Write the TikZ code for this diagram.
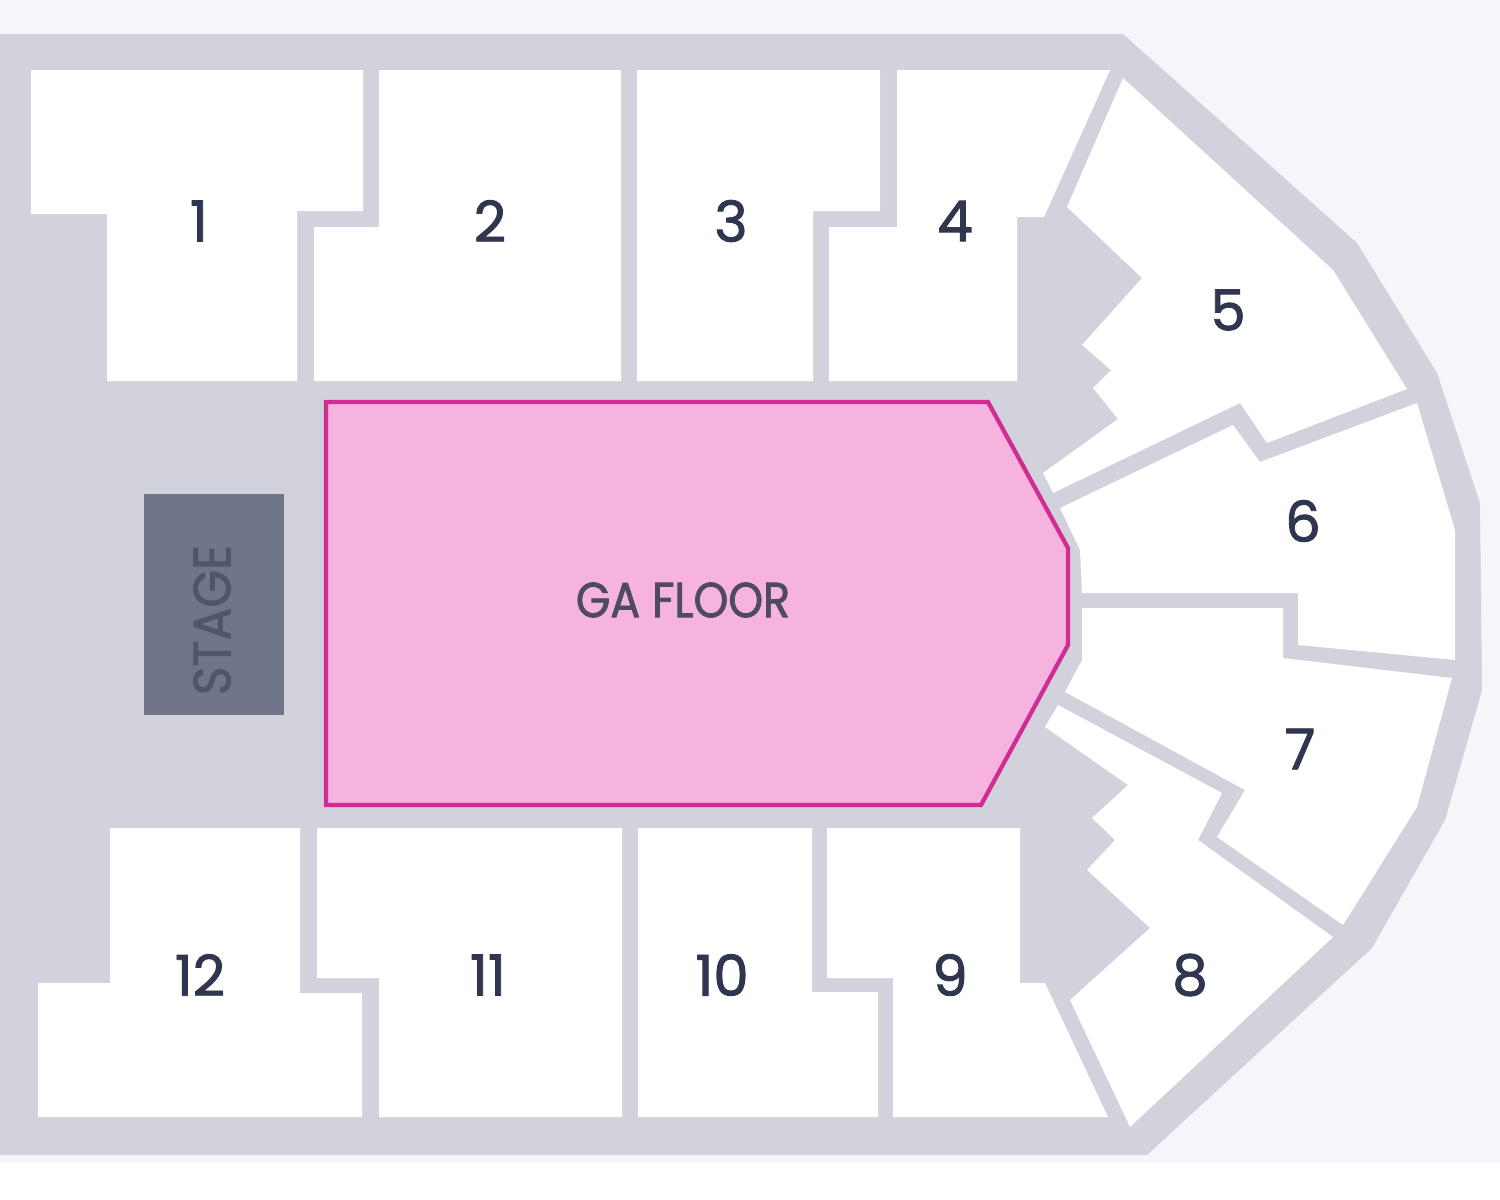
\documentclass[tikz,border=0pt]{standalone}
\usepackage{fontspec}
\setmainfont[AutoFakeBold=1.6]{Poppins}
\definecolor{venuebg}{HTML}{F5F5FA}
\definecolor{venuegrey}{HTML}{D1D2DB}
\definecolor{stagegrey}{HTML}{71758A}
\definecolor{stagetext}{HTML}{50556B}
\definecolor{floorpink}{HTML}{F7B3DF}
\definecolor{floorline}{HTML}{D02C93}
\definecolor{labelink}{HTML}{30364F}
\tikzset{
  section/.style={fill=white},
  seatlabel/.style={text=labelink,inner sep=0pt,font=\fontsize{16}{16}\selectfont\bfseries},
}
\begin{document}
\begin{tikzpicture}[x=0.01cm,y=-0.01cm]
      \useasboundingbox (0,0) rectangle (1500,1200);
      \fill[venuebg] (0,0) rectangle (1500,1163);
      \fill[venuegrey] (0,34) -- (1123,34) -- (1357,243) -- (1437,373) -- (1480,503)
        -- (1482,690) -- (1445,820) -- (1372,948) -- (1147,1155) -- (0,1155) -- cycle;
      % top row
      \fill[section] (31,70) -- (363,70) -- (363,211) -- (297,211) -- (297,381) -- (107,381) -- (107,214) -- (31,214) -- cycle;
      \fill[section] (379,70) -- (621,70) -- (621,381) -- (314,381) -- (314,227) -- (379,227) -- cycle;
      \fill[section] (637,70) -- (880,70) -- (880,211) -- (813,211) -- (813,381) -- (637,381) -- cycle;
      \fill[section] (897,70) -- (1110,70) -- (1044,217) -- (1017,217) -- (1017,381) -- (829,381) -- (829,227) -- (897,227) -- cycle;
      % right side
      \fill[section] (1123,78) -- (1333,270) -- (1407,389) -- (1267,443) -- (1240,403) -- (1053,493) -- (1043,473)
        -- (1118,419) -- (1093,388) -- (1111,370) -- (1082,345) -- (1142,278) -- (1067,207) -- cycle;
      \fill[section] (1417,403) -- (1455,530) -- (1455,660) -- (1298,645) -- (1298,593) -- (1082,593) -- (1080,550)
        -- (1060,508) -- (1233,425) -- (1260,462) -- cycle;
      \fill[section] (1082,608) -- (1283,608) -- (1283,658) -- (1452,678) -- (1417,807) -- (1343,925) -- (1217,837)
        -- (1245,790) -- (1065,692) -- (1082,660) -- cycle;
      \fill[section] (1058,705) -- (1222,793) -- (1198,840) -- (1333,937) -- (1130,1127) -- (1070,1000) -- (1150,928)
        -- (1087,870) -- (1115,840) -- (1092,818) -- (1128,785) -- (1045,727) -- cycle;
      % bottom row
      \fill[section] (827,828) -- (1020,828) -- (1020,983) -- (1045,983) -- (1108,1117) -- (893,1117) -- (893,978) -- (827,978) -- cycle;
      \fill[section] (638,828) -- (812,828) -- (812,992) -- (878,992) -- (878,1117) -- (638,1117) -- cycle;
      \fill[section] (317,828) -- (622,828) -- (622,1117) -- (379,1117) -- (379,978) -- (317,978) -- cycle;
      \fill[section] (110,828) -- (300,828) -- (300,993) -- (362,993) -- (362,1117) -- (38,1117) -- (38,983) -- (110,983) -- cycle;
      % floor and stage
      \draw[floorline,fill=floorpink,line width=1.2pt] (326,402) -- (988,402) -- (1068,548) -- (1068,645) -- (981,805) -- (326,805) -- cycle;
      \fill[stagegrey] (144,494) rectangle (284,715);
      \node[inner sep=0pt,text=stagetext,rotate=90,xscale=0.92,font=\fontsize{15}{15}\selectfont\bfseries] (stage) at (212,620) {STAGE};
      \node[inner sep=0pt,text=labelink!85!floorpink,xscale=0.9,font=\fontsize{14}{14}\selectfont\bfseries] (floor) at (683,600) {GA FLOOR};
      \node[seatlabel] (s1) at (199,221) {1};
      \node[seatlabel] (s2) at (490,221) {2};
      \node[seatlabel] (s3) at (731,221) {3};
      \node[seatlabel] (s4) at (955,221) {4};
      \node[seatlabel] (s5) at (1228,310) {5};
      \node[seatlabel] (s6) at (1303,521) {6};
      \node[seatlabel] (s7) at (1300,749) {7};
      \node[seatlabel] (s8) at (1190,975) {8};
      \node[seatlabel] (s9) at (950,975) {9};
      \node[seatlabel] (s10) at (722,975) {10};
      \node[seatlabel] (s11) at (488,975) {11};
      \node[seatlabel] (s12) at (200,975) {12};
    \end{tikzpicture}
\end{document}
